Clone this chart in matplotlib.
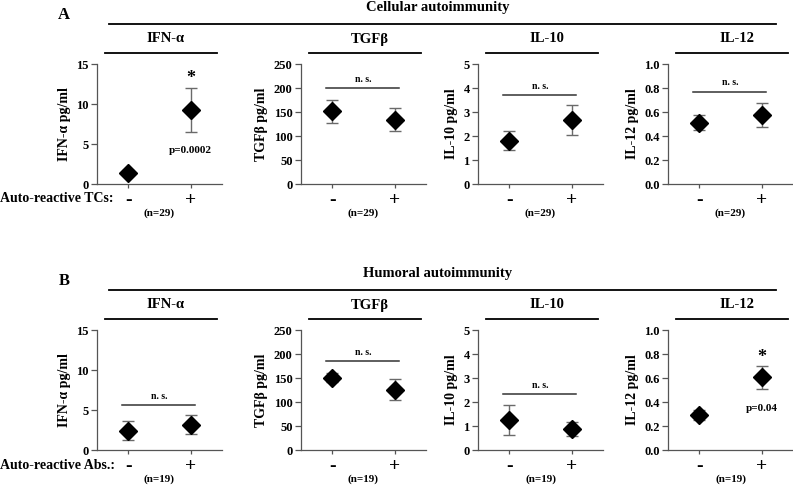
import numpy as np
import matplotlib
matplotlib.use('Agg')
import matplotlib.pyplot as plt
from matplotlib.lines import Line2D

plt.rcParams['font.family'] = ['Liberation Serif', 'DejaVu Serif']
plt.rcParams['font.weight'] = 'bold'
plt.rcParams['axes.labelweight'] = 'bold'

cytokines = ['IFN-α', 'TGFβ', 'IL-10', 'IL-12']
ylabels = ['IFN-α pg/ml', 'TGFβ pg/ml', 'IL-10 pg/ml', 'IL-12 pg/ml']
ymax = [15, 250, 5, 1.0]
yticks = [[0, 5, 10, 15], [0, 50, 100, 150, 200, 250], [0, 1, 2, 3, 4, 5],
          [0, 0.2, 0.4, 0.6, 0.8, 1.0]]
ytick_labels = [['0', '5', '10', '15'], ['0', '50', '100', '150', '200', '250'],
                ['0', '1', '2', '3', '4', '5'], ['0.0', '0.2', '0.4', '0.6', '0.8', '1.0']]
groups = ['-', '+']

# Cellular autoimmunity (auto-reactive T cells), n=29
cell_mean = [[1.4, 9.2], [152, 134], [1.80, 2.67], [0.51, 0.575]]
cell_lo = [[1.1, 6.5], [128, 110], [1.43, 2.04], [0.45, 0.478]]
cell_hi = [[1.7, 12.0], [176, 158], [2.20, 3.28], [0.575, 0.672]]
# significance: None = n.s. line level, else (star y, p-text, p y)
cell_ns = [None, 199, 3.71, 0.77]
cell_sig = [(13.2, 'p=0.0002', 4.2), None, None, None]

# Humoral autoimmunity (auto-reactive antibodies), n=19
hum_mean = [[2.42, 3.17], [151, 126], [1.26, 0.875], [0.289, 0.606]]
hum_lo = [[1.29, 2.04], [141, 104], [0.625, 0.57], [0.247, 0.511]]
hum_hi = [[3.58, 4.33], [160, 148], [1.875, 1.18], [0.33, 0.697]]
hum_ns = [5.58, 185, 2.33, None]
hum_sig = [None, None, None, (0.77, 'p=0.04', 0.35)]

W, H = 793, 486
fig = plt.figure(figsize=(W / 100, H / 100), dpi=100)


def fx(px):
    return px / W


def fy(py):
    return 1 - py / H


def hline(x0, x1, y, lw=1.3):
    fig.add_artist(Line2D([fx(x0), fx(x1)], [fy(y), fy(y)], color='black',
                          lw=lw, transform=fig.transFigure))


axis_left = [97, 301, 478, 668]
axis_w = 125
axis_h = 120


def draw_panel(top, letter, title, mean, lo, hi, ns, sig, rowlabel, ntext):
    fig.text(fx(64), fy(top - 49), letter, fontsize=12, ha='center', va='center')
    fig.text(fx(438), fy(top - 57), title, fontsize=10.5, ha='center', va='center')
    hline(109, 776, top - 40)
    for i in range(4):
        left = axis_left[i]
        hline(left + 8, left + 120, top - 11)
        fig.text(fx(left + 69), fy(top - 25), cytokines[i], fontsize=10.5,
                 ha='center', va='center')
        ax = fig.add_axes([fx(left), fy(top + axis_h), fx(axis_w), axis_h / H])
        m = np.array(mean[i])
        err = np.array([m - np.array(lo[i]), np.array(hi[i]) - m])
        ax.errorbar([0, 1], m, yerr=err, fmt='none', ecolor='#6a6a6a',
                    elinewidth=1.0, capsize=4.5, capthick=1.0)
        ax.plot([0, 1], m, 'D', color='black', markersize=9.5, ls='none')
        ax.set_xlim(-0.5, 1.5)
        ax.set_ylim(0, ymax[i])
        ax.set_yticks(yticks[i])
        ax.set_yticklabels(ytick_labels[i], fontsize=9, fontweight='bold')
        ax.set_xticks([0, 1])
        ax.set_xticklabels(groups, fontsize=14, fontweight='bold')
        ax.tick_params(axis='y', length=4, width=0.9, color='#555555', pad=2)
        ax.tick_params(axis='x', length=3, width=0.9, color='#555555', pad=3)
        ax.set_ylabel(ylabels[i], fontsize=10, fontweight='bold', labelpad=4)
        for s in ['top', 'right']:
            ax.spines[s].set_visible(False)
        for s in ['left', 'bottom']:
            ax.spines[s].set_color('#555555')
            ax.spines[s].set_linewidth(0.9)
        if ns[i] is not None:
            ax.plot([-0.1, 1.07], [ns[i], ns[i]], color='#333333', lw=1.1)
            ax.text(0.5, ns[i] + ymax[i] * 0.035, 'n. s.', fontsize=7,
                    ha='center', va='bottom')
        if sig[i] is not None:
            sy, ptxt, py = sig[i]
            ax.text(1, sy, '*', fontsize=13, ha='center', va='center')
            ax.text(1, py, ptxt, fontsize=8, ha='center', va='center')
        ax.text(0.5, -0.245, ntext, fontsize=8, ha='center', va='center',
                transform=ax.transAxes)
    fig.text(0, fy(top + 135), rowlabel, fontsize=10, ha='left', va='center')


draw_panel(64, 'A', 'Cellular autoimmunity', cell_mean, cell_lo, cell_hi,
           cell_ns, cell_sig, 'Auto-reactive TCs:', '(n=29)')
draw_panel(330, 'B', 'Humoral autoimmunity', hum_mean, hum_lo, hum_hi,
           hum_ns, hum_sig, 'Auto-reactive Abs.:', '(n=19)')

fig.savefig('out.png', dpi=100)
